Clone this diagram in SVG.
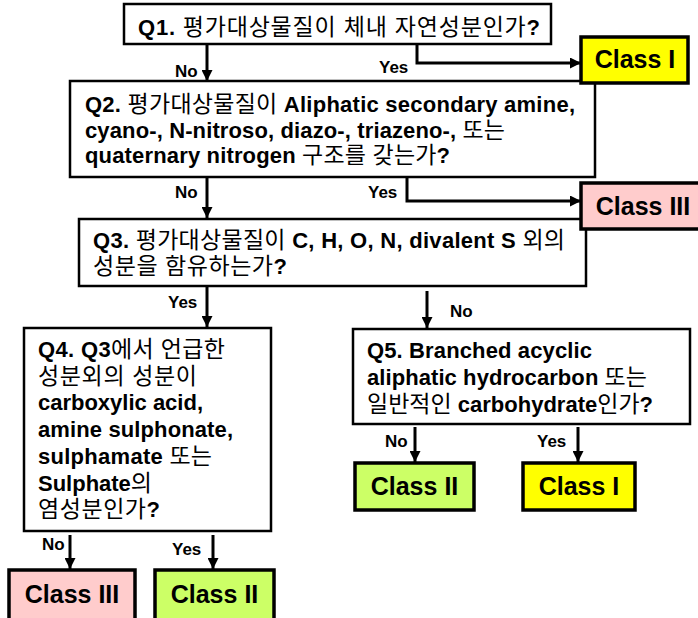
<svg xmlns="http://www.w3.org/2000/svg" width="698" height="618" viewBox="0 0 698 618">
<defs>
<style>
.q { fill:#ffffff; stroke:#000000; stroke-width:2.5; }
.c { stroke:#000000; stroke-width:3.5; }
.y { fill:#ffff00; }
.p { fill:#ffcccc; }
.g { fill:#ccff66; }
text { font-family:'Liberation Sans', Arial, 'Noto Sans CJK KR', sans-serif; font-weight:bold; fill:#000000; }
.t { font-size:22px; }
.k { font-weight:normal; font-size:23px; }
.ct { font-size:25px; text-anchor:middle; }
.lb { font-size:17px; }
#connectors path { fill:none; stroke:#000000; stroke-width:3; }
</style>
<marker id="ah" viewBox="0 0 10 10" refX="10" refY="5" markerWidth="11" markerHeight="11" markerUnits="userSpaceOnUse" orient="auto">
<path d="M0,0 L10,5 L0,10 z" fill="#000000"/>
</marker>
</defs>
<rect width="698" height="618" fill="#ffffff"/>

<g id="q1">
<rect class="q" x="124" y="4" width="427" height="40"/>
<text class="t" x="138" y="35" textLength="402" lengthAdjust="spacing">Q1. <tspan class="k">평가대상물질이 체내 자연성분인가</tspan>?</text>
</g>

<g id="q2">
<rect class="q" x="70" y="81" width="525" height="96"/>
<text class="t" x="85" y="112" textLength="490" lengthAdjust="spacing">Q2. <tspan class="k">평가대상물질이</tspan> Aliphatic secondary amine,</text>
<text class="t" x="85" y="138" textLength="420" lengthAdjust="spacing">cyano-, N-nitroso, diazo-, triazeno-, <tspan class="k">또는</tspan></text>
<text class="t" x="85" y="163" textLength="365" lengthAdjust="spacing">quaternary nitrogen <tspan class="k">구조를 갖는가</tspan>?</text>
</g>

<g id="q3">
<rect class="q" x="79" y="219" width="507" height="67"/>
<text class="t" x="93" y="248" textLength="472" lengthAdjust="spacing">Q3. <tspan class="k">평가대상물질이</tspan> C, H, O, N, divalent S <tspan class="k">외의</tspan></text>
<text class="t" x="93" y="274" textLength="194" lengthAdjust="spacing"><tspan class="k">성분을 함유하는가</tspan>?</text>
</g>

<g id="q4">
<rect class="q" x="24" y="328" width="247" height="203"/>
<text class="t" x="38" y="357" textLength="187" lengthAdjust="spacing">Q4. Q3<tspan class="k">에서 언급한</tspan></text>
<text class="t" x="38" y="384" textLength="159" lengthAdjust="spacing"><tspan class="k">성분외의 성분이</tspan></text>
<text class="t" x="38" y="410" textLength="165" lengthAdjust="spacing">carboxylic acid,</text>
<text class="t" x="38" y="437" textLength="195" lengthAdjust="spacing">amine sulphonate,</text>
<text class="t" x="38" y="464" textLength="174" lengthAdjust="spacing">sulphamate <tspan class="k">또는</tspan></text>
<text class="t" x="38" y="491" textLength="114" lengthAdjust="spacing">Sulphate<tspan class="k">의</tspan></text>
<text class="t" x="38" y="517" textLength="122" lengthAdjust="spacing"><tspan class="k">염성분인가</tspan>?</text>
</g>

<g id="q5">
<rect class="q" x="353" y="329" width="337" height="95"/>
<text class="t" x="367" y="358" textLength="225" lengthAdjust="spacing">Q5. Branched acyclic</text>
<text class="t" x="367" y="385" textLength="280" lengthAdjust="spacing">aliphatic hydrocarbon <tspan class="k">또는</tspan></text>
<text class="t" x="367" y="412" textLength="286" lengthAdjust="spacing"><tspan class="k">일반적인</tspan> carbohydrate<tspan class="k">인가</tspan>?</text>
</g>

<g id="class1-top">
<rect class="c y" x="581" y="37" width="107" height="46"/>
<text class="ct" x="635" y="68">Class I</text>
</g>

<g id="class3-top">
<rect class="c p" x="581" y="183" width="122" height="46"/>
<text class="ct" x="643" y="215">Class III</text>
</g>

<g id="class3-bottom">
<rect class="c p" x="9" y="570" width="126" height="50"/>
<text class="ct" x="72" y="603">Class III</text>
</g>

<g id="class2-bottom">
<rect class="c g" x="155" y="570" width="119" height="50"/>
<text class="ct" x="214.5" y="603">Class II</text>
</g>

<g id="class2-right">
<rect class="c g" x="355" y="463" width="119" height="47"/>
<text class="ct" x="414.5" y="495">Class II</text>
</g>

<g id="class1-right">
<rect class="c y" x="523" y="463" width="112" height="47"/>
<text class="ct" x="579" y="495">Class I</text>
</g>

<g id="connectors">
<path d="M207,44 V81" marker-end="url(#ah)"/>
<path d="M417,44 V63 H581" marker-end="url(#ah)"/>
<path d="M207,177 V218" marker-end="url(#ah)"/>
<path d="M407,178 V201 H581" marker-end="url(#ah)"/>
<path d="M207,287 V327" marker-end="url(#ah)"/>
<path d="M427,291 V328" marker-end="url(#ah)"/>
<path d="M70,535 V569" marker-end="url(#ah)"/>
<path d="M213,535 V569" marker-end="url(#ah)"/>
<path d="M415,427 V462" marker-end="url(#ah)"/>
<path d="M578,427 V462" marker-end="url(#ah)"/>
<text class="lb" x="175" y="77">No</text>
<text class="lb" x="379" y="73">Yes</text>
<text class="lb" x="175" y="198">No</text>
<text class="lb" x="368" y="198">Yes</text>
<text class="lb" x="168" y="308">Yes</text>
<text class="lb" x="450" y="317">No</text>
<text class="lb" x="42" y="550">No</text>
<text class="lb" x="172" y="555">Yes</text>
<text class="lb" x="385" y="447">No</text>
<text class="lb" x="537" y="447">Yes</text>
</g>
</svg>
